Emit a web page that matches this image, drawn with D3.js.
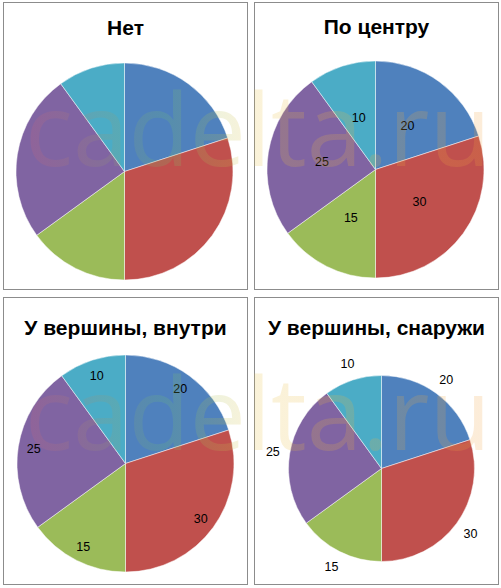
<!DOCTYPE html>
<html>
<head>
<meta charset="utf-8">
<script src="https://cdn.jsdelivr.net/npm/d3@7"></script>
<style>
  body { margin: 0; background: #fff; }
  svg { display: block; }
</style>
</head>
<body>
<svg></svg>
<script>
const width = 501;
const height = 588;

// data
const titles = ["Нет", "По центру", "У вершины, внутри", "У вершины, снаружи"];
const labelModes = ["none", "center", "insideEnd", "outsideEnd"];
const values = [20, 30, 15, 25, 10];
const colors = ["#4F81BD", "#C0504D", "#9BBB59", "#8064A2", "#4BACC6"];

// layout of the four chart boxes
const panels = [
    {x: 3.5,   y: 2.5,   cx: 124.5, cy: 171.5, r: 108.5, titleY: 34.5},
    {x: 254.5, y: 2.5,   cx: 375.5, cy: 169.5, r: 108.5, titleY: 33.5},
    {x: 3.5,   y: 297.5, cx: 125.5, cy: 463.5, r: 108.5, titleY: 335},
    {x: 254.5, y: 297.5, cx: 381.5, cy: 468.5, r: 93,    titleY: 335}
];
const panelW = 244;
const panelH = 287;

const svg = d3.select("svg")
    .attr("width", width)
    .attr("height", height);

const pie = d3.pie()
    .sort(null)
    .value(d => d);

const arcs = pie(values);

panels.forEach((p, i) => {
    const g = svg.append("g");

    g.append("rect")
        .attr("x", p.x)
        .attr("y", p.y)
        .attr("width", panelW)
        .attr("height", panelH)
        .attr("fill", "#fff")
        .attr("stroke", "#8c8c8c")
        .attr("stroke-width", 1);

    g.append("text")
        .attr("x", p.x + panelW / 2)
        .attr("y", p.titleY)
        .attr("text-anchor", "middle")
        .attr("font-family", "'Liberation Sans', Arial, sans-serif")
        .attr("font-weight", "bold")
        .attr("font-size", "21px")
        .attr("fill", "#000")
        .text(titles[i]);

    const arc = d3.arc().innerRadius(0).outerRadius(p.r);

    const pieG = g.append("g")
        .attr("transform", `translate(${p.cx},${p.cy})`);

    pieG.selectAll("path")
        .data(arcs)
        .join("path")
        .attr("d", arc)
        .attr("fill", (d, j) => colors[j])
        .attr("stroke", "#fff")
        .attr("stroke-opacity", 0.6)
        .attr("stroke-width", 0.8);

    const mode = labelModes[i];
    if (mode === "none") return;

    let labelR;
    if (mode === "center") labelR = p.r / 2;
    else if (mode === "insideEnd") labelR = p.r - 15.5;
    else labelR = p.r + 17;

    const labelArc = d3.arc().innerRadius(labelR).outerRadius(labelR);

    pieG.selectAll("text")
        .data(arcs)
        .join("text")
        .attr("transform", d => `translate(${labelArc.centroid(d)})`)
        .attr("text-anchor", "middle")
        .attr("dy", "0.36em")
        .attr("font-family", "'Liberation Sans', Arial, sans-serif")
        .attr("font-size", "12.5px")
        .attr("fill", "#000")
        .text(d => d.data);
});

// faint site watermark across each row
const grad = svg.append("defs").append("linearGradient")
    .attr("id", "wm")
    .attr("x1", "0").attr("x2", "1")
    .attr("y1", "0").attr("y2", "0");
grad.append("stop").attr("offset", "0").attr("stop-color", "#d0607a");
grad.append("stop").attr("offset", "0.3").attr("stop-color", "#70c070");
grad.append("stop").attr("offset", "0.5").attr("stop-color", "#e8c040");
grad.append("stop").attr("offset", "1").attr("stop-color", "#f0a040");

[166, 450].forEach(y => {
    svg.append("text")
        .attr("x", 25)
        .attr("y", y)
        .attr("font-family", "'Open Sans', sans-serif")
        .attr("font-size", "100px")
        .attr("fill", "url(#wm)")
        .attr("fill-opacity", 0.2)
        .text("cadelta.ru");
});
</script>
</body>
</html>
